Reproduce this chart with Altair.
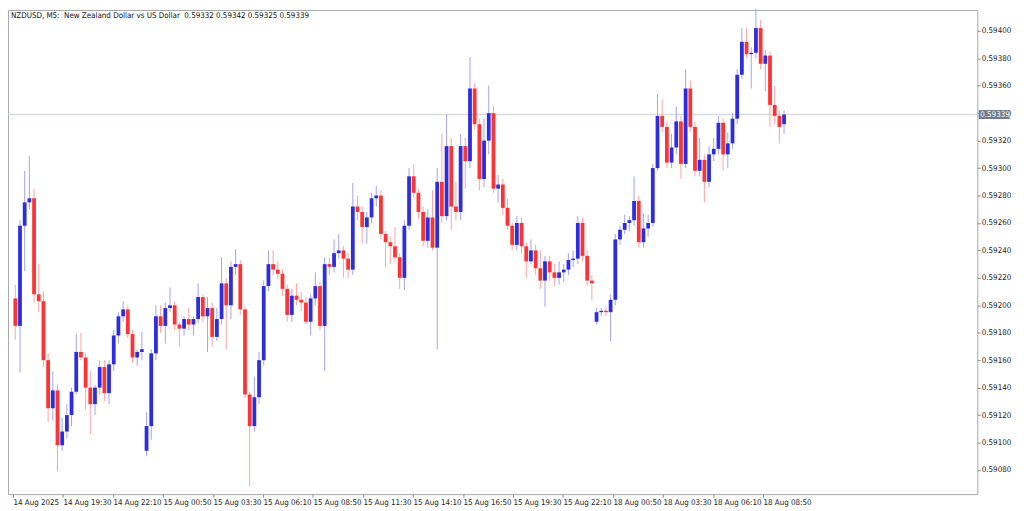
import altair as alt
import pandas as pd

# ---- data (prices in units of 0.00001), one candle = three 5-minute bars ----
opens = [59205, 59185, 59258, 59275, 59278, 59208, 59203, 59160, 59125, 59138,
         59098, 59108, 59120, 59137, 59166, 59162, 59140, 59128, 59140, 59155,
         59136, 59157, 59178, 59192, 59197, 59179, 59162, 59166, 59094, 59112,
         59165, 59192, 59185, 59198, 59200, 59186, 59183, 59190, 59186, 59190,
         59206, 59192, 59198, 59177, 59190, 59216, 59200, 59228, 59230, 59197,
         59135, 59112, 59133, 59160, 59214, 59230, 59226, 59223, 59212, 59193,
         59207, 59204, 59202, 59188, 59205, 59214, 59185, 59230, 59228, 59238,
         59240, 59234, 59226, 59272, 59268, 59257, 59264, 59278, 59280, 59252,
         59246, 59243, 59235, 59220, 59258, 59294, 59282, 59268, 59247, 59264,
         59242, 59290, 59265, 59316, 59272, 59268, 59316, 59305, 59358, 59332,
         59292, 59320, 59340, 59285, 59288, 59271, 59258, 59244, 59260, 59243,
         59232, 59240, 59227, 59218, 59232, 59224, 59220, 59224, 59226, 59233,
         59234, 59260, 59236, 59218, 59188, 59195, 59196, 59195, 59204, 59248,
         59255, 59260, 59262, 59276, 59246, 59256, 59260, 59300, 59338, 59330,
         59304, 59315, 59334, 59303, 59358, 59330, 59298, 59306, 59290, 59310,
         59314, 59333, 59310, 59318, 59336, 59368, 59392, 59383, 59384, 59402,
         59376, 59382, 59346, 59338, 59332]
highs = [59215, 59262, 59298, 59309, 59285, 59230, 59210, 59165, 59152, 59142,
         59118, 59128, 59140, 59179, 59180, 59165, 59152, 59142, 59160, 59160,
         59160, 59182, 59195, 59203, 59200, 59182, 59168, 59181, 59122, 59168,
         59200, 59200, 59202, 59213, 59203, 59188, 59192, 59198, 59192, 59216,
         59208, 59206, 59202, 59198, 59235, 59220, 59232, 59241, 59233, 59199,
         59137, 59148, 59166, 59218, 59240, 59240, 59232, 59226, 59215, 59212,
         59216, 59210, 59206, 59208, 59224, 59217, 59235, 59235, 59248, 59252,
         59243, 59238, 59289, 59280, 59272, 59268, 59282, 59287, 59284, 59254,
         59250, 59257, 59238, 59262, 59300, 59303, 59285, 59272, 59270, 59284,
         59300, 59325, 59339, 59322, 59290, 59325, 59322, 59381, 59362, 59336,
         59336, 59360, 59345, 59295, 59292, 59278, 59260, 59265, 59264, 59246,
         59248, 59244, 59240, 59236, 59236, 59230, 59232, 59230, 59238, 59240,
         59265, 59264, 59240, 59222, 59198, 59198, 59199, 59208, 59252, 59258,
         59266, 59265, 59294, 59280, 59267, 59266, 59303, 59354, 59350, 59334,
         59325, 59345, 59338, 59372, 59364, 59334, 59322, 59310, 59316, 59322,
         59338, 59336, 59326, 59340, 59372, 59402, 59402, 59388, 59416, 59408,
         59386, 59385, 59360, 59342, 59342]
lows = [59175, 59151, 59225, 59270, 59202, 59195, 59155, 59115, 59116, 59079,
        59094, 59103, 59112, 59135, 59160, 59124, 59106, 59120, 59135, 59130,
        59128, 59152, 59172, 59188, 59176, 59158, 59156, 59160, 59090, 59102,
        59160, 59180, 59172, 59195, 59182, 59170, 59178, 59182, 59178, 59187,
        59188, 59166, 59170, 59174, 59186, 59168, 59190, 59222, 59193, 59132,
        59068, 59108, 59128, 59156, 59210, 59222, 59219, 59207, 59188, 59188,
        59200, 59196, 59186, 59178, 59200, 59182, 59152, 59222, 59224, 59234,
        59220, 59220, 59222, 59262, 59245, 59245, 59260, 59272, 59248, 59228,
        59230, 59232, 59212, 59211, 59255, 59278, 59263, 59243, 59242, 59240,
        59168, 59260, 59262, 59255, 59262, 59262, 59285, 59300, 59328, 59284,
        59286, 59310, 59282, 59275, 59266, 59255, 59240, 59240, 59238, 59220,
        59230, 59222, 59212, 59199, 59218, 59214, 59215, 59217, 59222, 59228,
        59230, 59232, 59214, 59204, 59186, 59192, 59192, 59174, 59200, 59244,
        59252, 59254, 59258, 59242, 59242, 59250, 59257, 59298, 59326, 59300,
        59300, 59310, 59292, 59300, 59326, 59294, 59294, 59275, 59286, 59305,
        59310, 59298, 59300, 59314, 59332, 59365, 59380, 59358, 59380, 59372,
        59356, 59330, 59332, 59318, 59325]
closes = [59185, 59258, 59275, 59278, 59208, 59203, 59160, 59125, 59138, 59098,
          59108, 59120, 59137, 59166, 59162, 59140, 59128, 59140, 59155, 59136,
          59157, 59178, 59192, 59197, 59179, 59162, 59166, 59168, 59112, 59165,
          59192, 59185, 59198, 59200, 59186, 59183, 59190, 59186, 59190, 59206,
          59192, 59198, 59177, 59190, 59216, 59200, 59228, 59230, 59197, 59135,
          59112, 59133, 59160, 59214, 59230, 59226, 59223, 59212, 59193, 59207,
          59204, 59202, 59188, 59205, 59214, 59185, 59230, 59228, 59238, 59240,
          59234, 59226, 59272, 59268, 59257, 59264, 59278, 59280, 59252, 59246,
          59243, 59235, 59220, 59258, 59294, 59282, 59268, 59247, 59264, 59242,
          59290, 59265, 59316, 59272, 59268, 59316, 59305, 59358, 59332, 59292,
          59320, 59340, 59285, 59288, 59271, 59258, 59244, 59260, 59243, 59232,
          59240, 59227, 59218, 59232, 59224, 59220, 59224, 59226, 59233, 59234,
          59260, 59236, 59218, 59216, 59195, 59196, 59195, 59204, 59248, 59255,
          59260, 59262, 59276, 59246, 59256, 59260, 59300, 59338, 59330, 59304,
          59315, 59334, 59303, 59358, 59330, 59298, 59306, 59290, 59310, 59314,
          59333, 59310, 59318, 59336, 59368, 59392, 59383, 59384, 59402, 59376,
          59382, 59346, 59338, 59330, 59339]
PRICE_UNIT = 1e-5
BARS_PER_CANDLE = 3

x_labels = ["14 Aug 2025", "14 Aug 19:30", "14 Aug 22:10", "15 Aug 00:50",
            "15 Aug 03:30", "15 Aug 06:10", "15 Aug 08:50", "15 Aug 11:30",
            "15 Aug 14:10", "15 Aug 16:50", "15 Aug 19:30", "15 Aug 22:10",
            "18 Aug 00:50", "18 Aug 03:30", "18 Aug 06:10", "18 Aug 08:50"]
LABEL_STEP = 32  # bars between time labels

y_ticks = [0.59080, 0.59100, 0.59120, 0.59140, 0.59160, 0.59180, 0.59200,
           0.59220, 0.59240, 0.59260, 0.59280, 0.59300, 0.59320, 0.59340,
           0.59360, 0.59380, 0.59400]

header = ["NZDUSD, M5:\u00a0 New Zealand Dollar vs US Dollar\u00a0 0.59332 0.59342 0.59325 0.59339"]
current_price = [0.59339]

# ---- layout / style ----
W, H = 977, 488
FONT = "Liberation Sans Narrow, DejaVu Sans Condensed, Liberation Sans"
UP_BODY, DN_BODY = "#2d2de0", "#ff3333"
UP_WICK, DN_WICK = "#a3a3f0", "#ffa3a3"

df = pd.DataFrame({
    "o": [v * PRICE_UNIT for v in opens],
    "h": [v * PRICE_UNIT for v in highs],
    "l": [v * PRICE_UNIT for v in lows],
    "c": [v * PRICE_UNIT for v in closes],
})
df["bar"] = [i * BARS_PER_CANDLE + 1.5 for i in range(len(df))]
df["dir"] = ["up" if c >= o else "down" for o, c in zip(df["o"], df["c"])]

xscale = alt.Scale(domain=[0, 614], nice=False, zero=False)
yscale = alt.Scale(domain=[0.590624, 0.594152], nice=False, zero=False)

label_js = "[" + ",".join("'" + s + "'" for s in x_labels) + "]"
xaxis = alt.Axis(values=[LABEL_STEP * k for k in range(len(x_labels))],
                 labelExpr=label_js + "[round(datum.value/" + str(LABEL_STEP) + ")]",
                 title=None, grid=False, domain=False, tickSize=3, tickColor="#888888",
                 labelAlign="left", labelBaseline="top", labelPadding=1,
                 labelFlush=False, labelOverlap=False, labelBound=False,
                 labelFont=FONT, labelFontSize=8, labelColor="#222222")
yaxis = alt.Axis(orient="right", values=y_ticks, format=".5f", title=None,
                 grid=False, domain=False, tickSize=3, tickColor="#888888",
                 labelAlign="left", labelPadding=1, labelFlush=False,
                 labelOverlap=False, labelFont=FONT, labelFontSize=8,
                 labelColor="#222222")

wick_color = alt.Color("dir:N", scale=alt.Scale(domain=["up", "down"], range=[UP_WICK, DN_WICK]), legend=None)
body_color = alt.Color("dir:N", scale=alt.Scale(domain=["up", "down"], range=[UP_BODY, DN_BODY]), legend=None)

base = alt.Chart(df)

price_df = pd.DataFrame({"p": current_price, "label": [f"{v:.5f}" for v in current_price]})

price_line = alt.Chart(price_df).mark_rule(color="#d6dbe1", strokeWidth=1.5).encode(
    y=alt.Y("p:Q", scale=yscale, axis=yaxis)
)

wicks = base.mark_rule(strokeWidth=1).encode(
    x=alt.X("bar:Q", scale=xscale, axis=xaxis),
    y=alt.Y("l:Q", scale=yscale, axis=yaxis),
    y2="h:Q",
    color=wick_color,
)

bodies = base.mark_bar(width=3.8).encode(
    x=alt.X("bar:Q", scale=xscale, axis=xaxis),
    y=alt.Y("o:Q", scale=yscale, axis=yaxis),
    y2="c:Q",
    color=alt.Color("dir:N", scale=alt.Scale(domain=["up", "down"], range=[UP_BODY, DN_BODY]), legend=None),
)

head = alt.Chart(pd.DataFrame({"t": header})).mark_text(
    align="left", baseline="top", font=FONT, fontSize=8, color="#111111"
).encode(x=alt.value(3), y=alt.value(2), text="t:N")

price_box = alt.Chart(price_df).mark_tick(
    orient="horizontal", size=31, thickness=9, color="#6e7d8e", opacity=1
).encode(x=alt.value(W + 17), y=alt.Y("p:Q", scale=yscale, axis=yaxis))

price_text = alt.Chart(price_df).mark_text(
    align="left", baseline="middle", font=FONT, fontSize=8, color="#ffffff"
).encode(x=alt.value(W + 3), y=alt.Y("p:Q", scale=yscale, axis=yaxis), text="label:N")

chart = alt.layer(price_line, wicks, bodies.encode(color=body_color), head, price_box, price_text).resolve_scale(
    color="independent"
).properties(
    width=W, height=H,
    autosize=alt.AutoSizeParams(type="none"),
    padding={"left": 0, "top": 0, "right": 39, "bottom": 15},
    background="#ffffff",
).configure_view(stroke="#a8a8a8", strokeWidth=1)

chart.save("out.html", embed_options={"renderer": "svg", "actions": False})
